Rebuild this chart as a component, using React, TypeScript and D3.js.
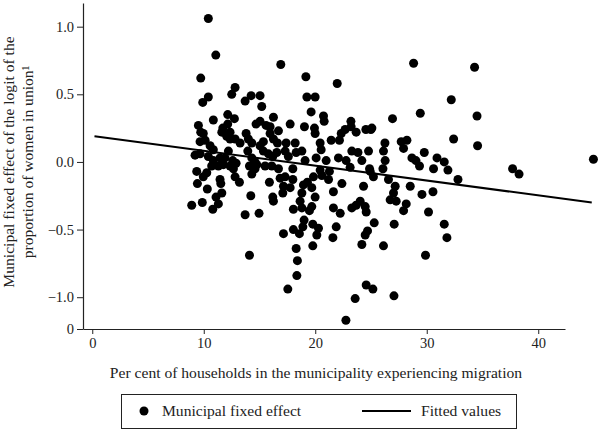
import React, { useRef, useEffect } from 'react'
import * as d3 from 'd3'

// per cent of households experiencing migration (x) and municipal fixed effect (y)
const migration = [
  10.41, 11.08, 9.73, 16.91, 19.16, 21.97, 28.82, 34.29, 32.2, 29.42, 34.51, 26.93, 25.08, 32.41, 34.56, 26.25,
  26.12, 26.27, 26.07, 27.71, 28.22, 27.92, 28.67, 29.03, 29.35, 29.78, 30.92, 31.57, 31.9, 30.61, 32.8, 37.7,
  38.28, 44.95, 25.22, 26.57, 27.17, 27.02, 28.52, 29.57, 30.56, 26.72, 27.26, 28.16, 27.92, 30.16, 27.08, 31.57,
  31.81, 26.12, 29.89, 25.17, 27.06, 25.29, 19.25, 19.99, 19.63, 20.74, 20.8, 17.75, 19.03, 19.93, 19.99, 23.2,
  23.22, 22.68, 23.67, 22.33, 24.54, 24.99, 22.17, 21.43, 20.44, 20.53, 24.78, 17.39, 18.2, 17.3, 18.8, 18.29,
  23.28, 23.83, 22.08, 22.77, 24.18, 20.08, 20.98, 19.09, 17.59, 23.13, 24.87, 24.93, 17.99, 17.3, 17.99, 17.15,
  17.75, 17.09, 19.84, 20.59, 21.19, 20.44, 21.27, 18.94, 19.3, 19.69, 19.99, 18.8, 22.39, 21.63, 24.33, 18.64,
  18.04, 18.8, 19.69, 19.48, 21.63, 22.24, 23.28, 23.67, 24.03, 24.48, 24.57, 19.0, 18.89, 18.04, 18.58, 19.78,
  20.29, 20.14, 21.88, 21.58, 24.69, 24.48, 17.15, 18.29, 19.78, 24.18, 8.92, 9.87, 10.81, 11.31, 10.32, 11.1,
  11.62, 9.43, 11.53, 13.71, 14.96, 14.22, 14.1, 15.89, 16.19, 16.25, 18.4, 18.35, 17.54, 22.75, 23.58, 24.57,
  12.81, 12.51, 10.41, 9.91, 14.25, 15.05, 13.71, 15.2, 12.15, 12.75, 10.86, 16.25, 9.52, 9.73, 11.71, 12.15,
  12.36, 11.62, 14.69, 15.05, 15.59, 15.95, 16.7, 9.96, 10.12, 12.06, 12.36, 12.81, 13.8, 14.0, 13.26, 14.31,
  15.05, 15.35, 15.95, 16.25, 16.61, 9.67, 10.57, 10.86, 9.22, 9.67, 10.41, 12.21, 13.95, 11.46, 11.91, 12.6,
  12.9, 14.31, 14.6, 15.35, 15.8, 16.19, 16.55, 10.86, 10.71, 11.31, 11.76, 12.66, 14.1, 14.6, 15.5, 16.1,
  9.37, 9.96, 10.27, 11.46, 12.36, 12.81, 13.2, 14.31, 14.76, 16.7, 16.85
]

const fixedEffect = [
  1.06, 0.79, 0.62, 0.72, 0.63, 0.58, 0.73, 0.7, 0.46, 0.36, 0.34, 0.32, 0.25, 0.17, 0.12, 0.14,
  0.08, 0.01, -0.05, 0.15, 0.16, 0.1, 0.03, 0.01, -0.03, 0.07, 0.03, 0.0, -0.06, -0.05, -0.13, -0.05,
  -0.09, 0.02, -0.11, -0.13, -0.18, -0.23, -0.18, -0.24, -0.22, -0.28, -0.29, -0.31, -0.36, -0.37, -0.46, -0.46,
  -0.56, -0.62, -0.69, -0.94, -0.99, -0.45, 0.48, 0.48, 0.37, 0.34, 0.3, 0.28, 0.26, 0.25, 0.21, 0.3,
  0.26, 0.24, 0.22, 0.21, 0.24, 0.24, 0.16, 0.16, 0.14, 0.09, 0.08, 0.14, 0.14, 0.08, 0.08, 0.07,
  0.08, 0.07, 0.03, 0.01, 0.01, 0.03, 0.01, 0.01, 0.04, -0.04, -0.05, -0.07, -0.05, -0.11, -0.13, -0.18,
  -0.19, -0.23, -0.11, -0.1, -0.13, -0.06, -0.07, -0.17, -0.15, -0.19, -0.26, -0.23, -0.16, -0.22, -0.18, -0.29,
  -0.35, -0.34, -0.33, -0.36, -0.34, -0.38, -0.34, -0.32, -0.29, -0.33, -0.37, -0.43, -0.48, -0.5, -0.53, -0.46,
  -0.49, -0.54, -0.48, -0.56, -0.51, -0.54, -0.53, -0.64, -0.62, -0.61, -0.32, -0.3, -0.35, -0.31, -0.2, -0.26,
  -0.23, -0.16, -0.16, -0.39, -0.38, -0.25, -0.69, -0.15, -0.26, -0.29, -0.73, -0.84, -0.94, -1.17, -1.01, -0.91,
  0.55, 0.5, 0.48, 0.44, 0.49, 0.49, 0.45, 0.41, 0.35, 0.32, 0.31, 0.33, 0.27, 0.22, 0.25, 0.28,
  0.22, 0.22, 0.28, 0.3, 0.27, 0.26, 0.23, 0.21, 0.16, 0.19, 0.17, 0.17, 0.21, 0.17, 0.14, 0.14,
  0.12, 0.15, 0.21, 0.17, 0.14, 0.15, 0.12, 0.09, 0.05, 0.06, 0.04, 0.08, 0.08, 0.03, 0.03, 0.01,
  -0.01, 0.03, 0.0, 0.08, 0.06, 0.04, 0.07, 0.01, -0.03, -0.03, -0.02, -0.05, -0.03, -0.05, -0.03, -0.03,
  -0.07, -0.11, -0.08, -0.13, -0.03, -0.11, -0.15, -0.09, -0.02, -0.05, -0.12
]

// fitted values line
const fitX = [0.2, 44.8]
const fitY = [0.19, -0.3]

const xTicks = [0, 10, 20, 30, 40]
const yTicks = [-1, -0.5, 0, 0.5, 1]
const legendLabels = ['Municipal fixed effect', 'Fitted values']

const font = "'Liberation Serif', 'DejaVu Serif', serif"

export default function App() {
  const ref = useRef<SVGSVGElement>(null)

  const width = 600
  const height = 432

  useEffect(() => {
    document.body.style.margin = '0'
    const svg = d3.select(ref.current)
    svg.selectAll('*').remove()

    const yMin = -1.235
    const x = d3.scaleLinear().domain([-0.83, 42.4]).range([83, 565])
    const y = d3.scaleLinear().domain([yMin, 1.175]).range([329, 3])

    const points = migration.map((m, i) => ({ x: m, y: fixedEffect[i] }))

    // y axis
    const yAxis = d3.axisLeft(y)
      .tickValues([yMin, ...yTicks])
      .tickFormat(d => (d === yMin ? '0' : d3.format('.1f')(d as number)))
      .tickSize(6)
      .tickSizeOuter(0)
      .tickPadding(3)
    const gy = svg.append('g').attr('transform', 'translate(83,0)').call(yAxis)

    // x axis
    const xAxis = d3.axisBottom(x).tickValues(xTicks).tickSize(5).tickSizeOuter(0).tickPadding(4)
    const gx = svg.append('g').attr('transform', 'translate(0,329)').call(xAxis)

    for (const g of [gx, gy]) {
      g.selectAll('text').attr('font-family', font).attr('font-size', 14.5).attr('fill', '#222')
      g.selectAll('line').attr('stroke', '#222')
      g.select('.domain').attr('stroke', '#222').attr('stroke-width', 1.2)
    }

    // points
    svg.append('g')
      .selectAll('circle')
      .data(points)
      .join('circle')
      .attr('cx', d => x(d.x))
      .attr('cy', d => y(d.y))
      .attr('r', 4.5)
      .attr('fill', '#000')

    // fitted line
    const line = d3.line<number>()
      .x(d => x(d))
      .y((d, i) => y(fitY[i]))
    svg.append('path')
      .datum(fitX)
      .attr('d', line)
      .attr('fill', 'none')
      .attr('stroke', '#000')
      .attr('stroke-width', 2)

    const titleSize = 15.6

    // axis titles
    svg.append('text')
      .attr('x', 316)
      .attr('y', 378)
      .attr('text-anchor', 'middle')
      .attr('font-family', font)
      .attr('font-size', titleSize)
      .attr('fill', '#222')
      .text('Per cent of households in the municipality experiencing migration')

    const yTitle = svg.append('g').attr('transform', 'translate(0,162) rotate(-90)')
    yTitle.append('text')
      .attr('x', 0).attr('y', 14)
      .attr('text-anchor', 'middle')
      .attr('font-family', font)
      .attr('font-size', titleSize)
      .attr('fill', '#222')
      .text('Municipal fixed effect of the logit of the')
    yTitle.append('text')
      .attr('x', 0).attr('y', 33)
      .attr('text-anchor', 'middle')
      .attr('font-family', font)
      .attr('font-size', titleSize)
      .attr('fill', '#222')
      .text('proportion of women in union¹')

    // legend
    const legend = svg.append('g')
    legend.append('rect')
      .attr('x', 121.5).attr('y', 394.5)
      .attr('width', 395).attr('height', 34)
      .attr('fill', 'none').attr('stroke', '#222').attr('stroke-width', 1)
    legend.append('circle').attr('cx', 144).attr('cy', 411).attr('r', 4.5).attr('fill', '#000')
    legend.append('line')
      .attr('x1', 362).attr('x2', 411).attr('y1', 411).attr('y2', 411)
      .attr('stroke', '#000').attr('stroke-width', 2)
    legend.selectAll('.lab')
      .data(legendLabels)
      .join('text')
      .attr('class', 'lab')
      .attr('x', (d, i) => (i === 0 ? 162 : 421))
      .attr('y', 416)
      .attr('font-family', font)
      .attr('font-size', titleSize)
      .attr('fill', '#222')
      .text(d => d)
  }, [])

  return (
    <svg ref={ref} width={width} height={height} style={{ display: 'block', background: '#fff' }} />
  )
}
